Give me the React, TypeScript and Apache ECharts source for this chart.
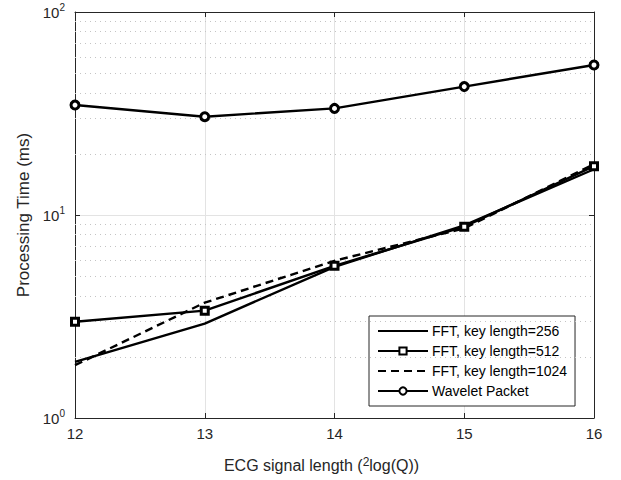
import React, { useEffect, useRef } from "react";
import * as echarts from "echarts";

const xValues = [12, 13, 14, 15, 16];
const fft256 = [1.89, 2.92, 5.55, 8.9, 16.8];
const fft512 = [2.98, 3.38, 5.62, 8.76, 17.4];
const fft1024 = [1.82, 3.7, 5.95, 8.6, 17.8];
const wavelet = [34.8, 30.5, 33.5, 42.9, 54.8];
const minorGridValues = [2, 3, 4, 5, 6, 7, 8, 9, 20, 30, 40, 50, 60, 70, 80, 90];

const seriesNames = [
  "FFT, key length=256",
  "FFT, key length=512",
  "FFT, key length=1024",
  "Wavelet Packet",
];

const FONT = "Liberation Sans, Arial, Helvetica, sans-serif";
const TXT = "#262626";

export default function App() {
  const ref = useRef<HTMLDivElement>(null);
  useEffect(() => {
    if (!ref.current) return;
    const chart = echarts.init(ref.current, null, { renderer: "svg" });
    const pts = (arr: number[]) => xValues.map((x, i) => [x, arr[i]]);
    const sup = { fontSize: 10, verticalAlign: "top", padding: [0, 0, 9, 0], color: TXT, fontFamily: FONT };
    chart.setOption({
      animation: false,
      backgroundColor: "#fff",
      textStyle: { fontFamily: FONT },
      grid: { left: 75, right: 27, top: 12, bottom: 62, containLabel: false },
      legend: {
        orient: "vertical",
        left: 369,
        top: 316,
        width: 209,
        padding: [8, 8, 8, 8],
        itemGap: 6,
        itemWidth: 50,
        itemHeight: 9,
        backgroundColor: "#fff",
        borderColor: "#262626",
        borderWidth: 1,
        borderRadius: 0,
        textStyle: { fontSize: 14, lineHeight: 14, color: "#000", fontFamily: FONT, padding: [0, 0, 0, -1] },
        data: [
          { name: seriesNames[0], itemStyle: { opacity: 0 } },
          { name: seriesNames[1] },
          { name: seriesNames[2], itemStyle: { opacity: 0 } },
          { name: seriesNames[3] },
        ],
      },
      xAxis: [
        {
          type: "value",
          min: 12,
          max: 16,
          interval: 1,
          name: "ECG signal length ({sup|2}log(Q))",
          nameLocation: "middle",
          nameGap: 38,
          nameTextStyle: {
            fontSize: 16,
            color: TXT,
            fontFamily: FONT,
            padding: [0, 26, 0, 0],
            rich: { sup: { fontSize: 12, verticalAlign: "top", padding: [0, 0, 7, 0], color: TXT, fontFamily: FONT } },
          },
          axisLine: { show: true, onZero: false, lineStyle: { color: TXT, width: 1 } },
          axisTick: { show: true, inside: true, length: 5, lineStyle: { color: TXT } },
          axisLabel: { fontSize: 15, color: TXT, margin: 8, fontFamily: FONT },
          splitLine: { show: true, lineStyle: { color: "#e3e3e3", width: 1 } },
        },
        {
          type: "value",
          position: "top",
          min: 12,
          max: 16,
          interval: 1,
          axisLine: { show: true, onZero: false, lineStyle: { color: TXT, width: 1 } },
          axisTick: { show: true, inside: true, length: 5, lineStyle: { color: TXT } },
          axisLabel: { show: false },
          splitLine: { show: false },
        },
      ],
      yAxis: [
        {
          type: "log",
          logBase: 10,
          min: 1,
          max: 100,
          name: "Processing Time (ms)",
          nameLocation: "middle",
          nameGap: 33,
          nameTextStyle: { fontSize: 17, color: TXT, fontFamily: FONT },
          axisLine: { show: true, onZero: false, lineStyle: { color: TXT, width: 1 } },
          axisTick: { show: true, inside: true, length: 5, lineStyle: { color: TXT } },
          axisLabel: {
            fontSize: 15,
            color: TXT,
            margin: 10,
            fontFamily: FONT,
            formatter: (v: number) => "10{sup|" + Math.round(Math.log10(v)) + "}",
            rich: { sup },
          },
          splitLine: { show: true, lineStyle: { color: "#e3e3e3", width: 1 } },
        },
        {
          type: "log",
          logBase: 10,
          min: 1,
          max: 100,
          position: "right",
          axisLine: { show: true, onZero: false, lineStyle: { color: TXT, width: 1 } },
          axisTick: { show: true, inside: true, length: 5, lineStyle: { color: TXT } },
          axisLabel: { show: false },
          splitLine: { show: false },
        },
      ],
      series: [
        {
          name: "minor-grid",
          type: "line",
          data: [],
          silent: true,
          markLine: {
            silent: true,
            symbol: ["none", "none"],
            label: { show: false },
            lineStyle: { color: "#c4c4c4", type: [1, 4], width: 1 },
            data: minorGridValues.map((v) => ({ yAxis: v })),
          },
        },
        {
          name: seriesNames[0],
          type: "line",
          data: pts(fft256),
          symbol: "none",
          lineStyle: { color: "#000", width: 2.4 },
          itemStyle: { color: "#000" },
          z: 5,
        },
        {
          name: seriesNames[1],
          type: "line",
          data: pts(fft512),
          symbol: "rect",
          symbolSize: 7,
          lineStyle: { color: "#000", width: 2.4 },
          itemStyle: { color: "#fff", borderColor: "#000", borderWidth: 3 },
          z: 6,
        },
        {
          name: seriesNames[2],
          type: "line",
          data: pts(fft1024),
          symbol: "none",
          lineStyle: { color: "#000", width: 2.4, type: [8, 5] },
          itemStyle: { color: "#000" },
          z: 5,
        },
        {
          name: seriesNames[3],
          type: "line",
          data: pts(wavelet),
          symbol: "circle",
          symbolSize: 8,
          lineStyle: { color: "#000", width: 2.4 },
          itemStyle: { color: "#fff", borderColor: "#000", borderWidth: 3 },
          z: 6,
        },
      ],
    });
    return () => chart.dispose();
  }, []);
  return <div ref={ref} style={{ width: 621, height: 480, position: "absolute", left: 0, top: 0 }} />;
}
